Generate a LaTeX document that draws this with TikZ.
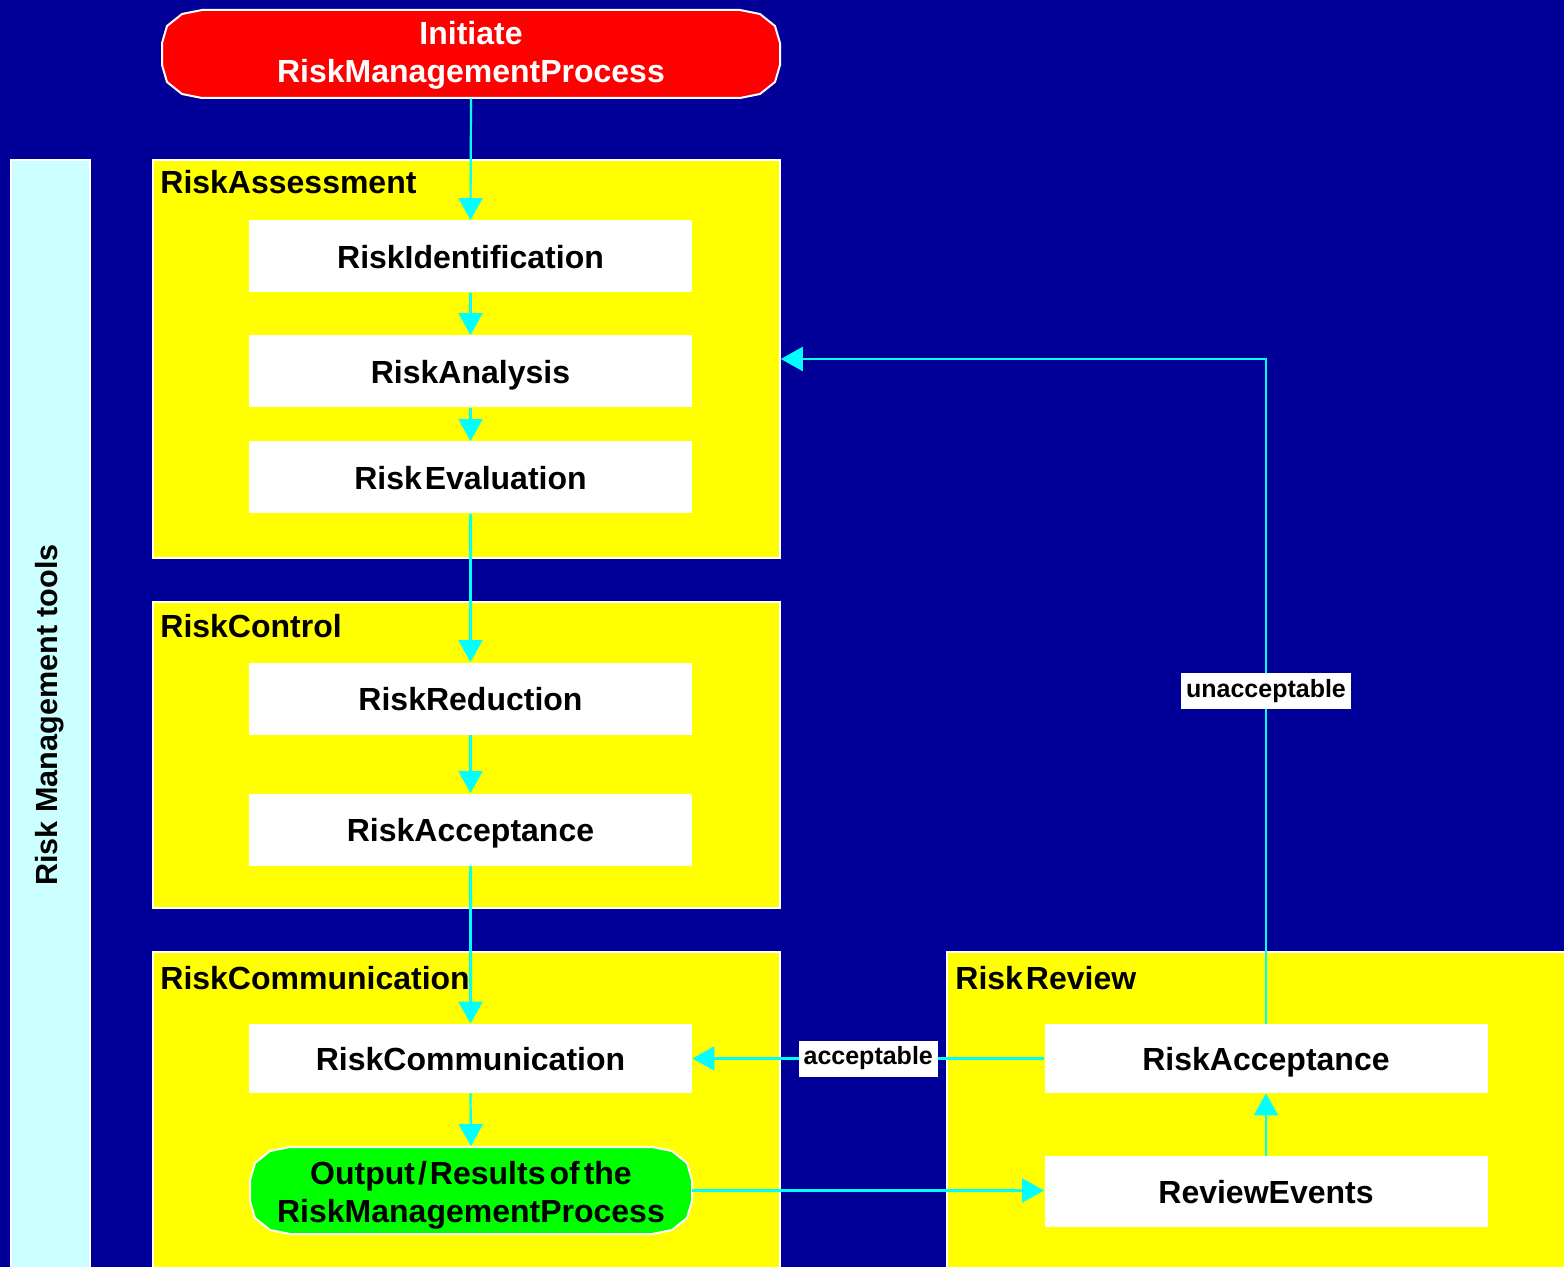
\documentclass[tikz,border=0pt]{standalone}
\usepackage{fontspec}
\setmainfont{Liberation Sans}
\usetikzlibrary{arrows.meta,calc}
\definecolor{navybg}{RGB}{0,0,153}
\definecolor{boxyellow}{RGB}{255,255,0}
\definecolor{arrowcyan}{RGB}{0,255,255}
\definecolor{barcyan}{RGB}{204,255,255}
\definecolor{startred}{RGB}{255,0,0}
\definecolor{endgreen}{RGB}{0,255,0}
\newcommand\blobshape[5]{%
  \filldraw[draw=white,line width=1pt,fill=#5]
    ({#1+40},#2) -- ({#3-40},#2) -- ({#3-20},{#2+4}) -- ({#3-5},{#2+16}) -- (#3,{#2+33})
    -- (#3,{#4-33}) -- ({#3-5},{#4-16}) -- ({#3-20},{#4-4}) -- ({#3-40},#4)
    -- ({#1+40},#4) -- ({#1+20},{#4-4}) -- ({#1+5},{#4-16}) -- (#1,{#4-33})
    -- (#1,{#2+33}) -- ({#1+5},{#2+16}) -- ({#1+20},{#2+4}) -- cycle;}
\tikzset{
  bigfont/.style={font=\fontsize{16}{19}\selectfont\bfseries},
  group/.style={draw=white,line width=0.8pt,fill=boxyellow,inner sep=0pt},
  grouptitle/.style={bigfont,anchor=base west,inner sep=0pt},
  stepbox/.style={fill=white,draw=none,minimum width=221.5pt,minimum height=36pt,inner sep=0pt,bigfont,text height=12pt,text depth=0pt},
  blobtext/.style={draw=none,minimum width=221pt,minimum height=44pt,inner sep=0pt,bigfont,align=center},
  flow/.style={draw=arrowcyan,line width=1.1pt,-{Triangle[length=11pt,width=12pt]}},
  flowlabel/.style={fill=white,text=black,font=\fontsize{12.5}{15}\selectfont\bfseries,inner xsep=2.5pt,inner ysep=0pt,minimum height=18pt}
}
\begin{document}
\begin{tikzpicture}[x=0.5pt,y=-0.5pt]
\useasboundingbox (0,0) rectangle (1564,1267);
\clip (0,0) rectangle (1564,1267);
\fill[navybg] (0,0) rectangle (1564,1267);

% side bar
\node[draw=white,line width=0.6pt,fill=barcyan,minimum width=39.5pt,minimum height=570pt,inner sep=0pt] (bar) at (50.5,730) {};
\node[font=\fontsize{15.3}{18}\selectfont\bfseries,rotate=90] (bartext) at (50,715) {Risk Management tools};

% group boxes
\node[group,minimum width=313.5pt,minimum height=199pt] (assess) at (466.5,359) {};
\node[group,minimum width=313.5pt,minimum height=153pt] (control) at (466.5,755) {};
\node[group,minimum width=313.5pt,minimum height=174pt] (commbox) at (466.5,1126) {};
\node[group,minimum width=326.5pt,minimum height=174pt] (review) at (1273.5,1126) {};

\node[grouptitle] (assesstitle) at (160,194) {RiskAssessment};
\node[grouptitle] (controltitle) at (160,637) {RiskControl};
\node[grouptitle] (commtitle) at (160,989) {RiskCommunication};
\node[grouptitle] (reviewtitle) at (955,989) {Risk\hspace{1.5pt}Review};

% start and end shapes
\blobshape{162}{10}{780}{98}{startred}
\node[blobtext,text=white,minimum width=309pt,text height=32pt] (init) at (471,54) {Initiate\\RiskManagementProcess};
\blobshape{250}{1147}{692}{1234}{endgreen}
\node[blobtext,text height=35.5pt] (output) at (471,1190.5) {Output\hspace{1.5pt}/\hspace{1.5pt}Results\hspace{2pt}of\hspace{2pt}the\\RiskManagementProcess};

% steps
\node[stepbox] (ident) at (470.5,256.5) {RiskIdentification};
\node[stepbox] (anal) at (470.5,371.5) {RiskAnalysis};
\node[stepbox] (eval) at (470.5,477.5) {Risk\hspace{1.5pt}Evaluation};
\node[stepbox] (reduc) at (470.5,698.5) {RiskReduction};
\node[stepbox] (accept) at (470.5,829.5) {RiskAcceptance};
\node[stepbox,minimum height=34.5pt] (comm) at (470.5,1058.5) {RiskCommunication};
\node[stepbox,minimum height=34.5pt] (rvacc) at (1266,1058.5) {RiskAcceptance};
\node[stepbox,minimum height=35.5pt] (rvev) at (1266,1191.5) {ReviewEvents};

% connectors
\draw[flow] (init.south) -- (ident.north);
\draw[flow] (ident.south) -- (anal.north);
\draw[flow] (anal.south) -- (eval.north);
\draw[flow] (eval.south) -- (reduc.north);
\draw[flow] (reduc.south) -- (accept.north);
\draw[flow] (accept.south) -- (comm.north);
\draw[flow] (comm.south) -- (output.north);
\draw[flow] (output.east) -- (output.east -| rvev.west);
\draw[flow] (rvev.north) -- (rvacc.south);
\draw[flow] (rvacc.west) -- node[flowlabel] (acclabel) {acceptable} (comm.east);
\draw[flow] (rvacc.north) |- node[flowlabel,pos=0.25] (unacclabel) {unacceptable} (assess.east);
\end{tikzpicture}
\end{document}
